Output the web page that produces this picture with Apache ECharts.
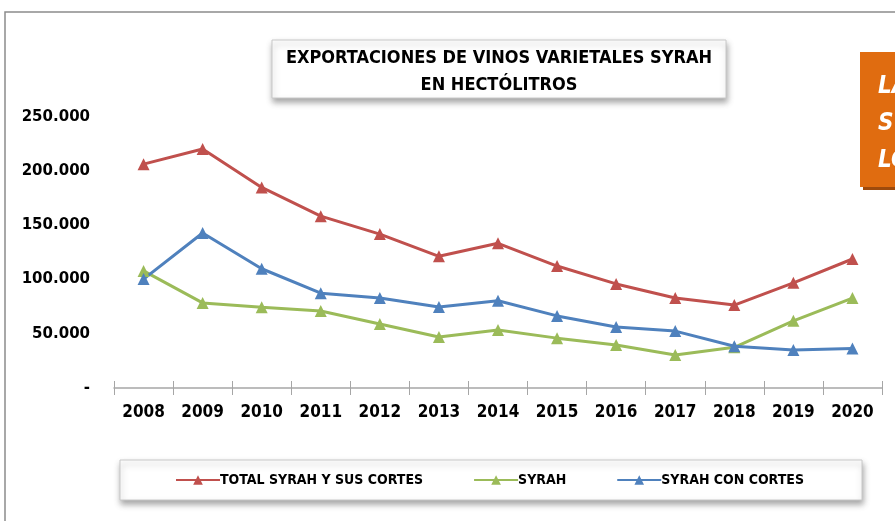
<!DOCTYPE html>
<html>
<head>
<meta charset="utf-8">
<script src="https://cdn.jsdelivr.net/npm/echarts@6/dist/echarts.min.js"></script>
<style>
  html, body { margin: 0; padding: 0; background: #fff; }
  #chart { width: 895px; height: 521px; }
</style>
</head>
<body>
<div id="chart"></div>
<script>
var years = ['2008', '2009', '2010', '2011', '2012', '2013', '2014', '2015', '2016', '2017', '2018', '2019', '2020'];
var totalSyrah = [206500, 220500, 185000, 158500, 142000, 121500, 133500, 112500, 96000, 83000, 76500, 97000, 119000];
var syrah = [108000, 78500, 74500, 71000, 59000, 47000, 53500, 46000, 39700, 30500, 37500, 62000, 83000];
var syrahCortes = [100500, 143000, 110000, 87500, 83000, 74700, 80500, 66500, 56300, 52500, 38500, 35000, 36500];
var seriesNames = ['TOTAL SYRAH Y SUS CORTES', 'SYRAH', 'SYRAH CON CORTES'];
var colors = ['#C0504D', '#9BBB59', '#4F81BD'];

var font = "'Liberation Sans Narrow', 'DejaVu Sans Condensed', sans-serif";
var chart = echarts.init(document.getElementById('chart'));

function fmt(v) {
    if (v === 0) return '-';
    return String(v).replace(/\B(?=(\d{3})+(?!\d))/g, '.');
}

function makeSeries(name, data, color) {
    return {
        name: name,
        type: 'line',
        data: data,
        symbol: 'triangle',
        symbolSize: 12,
        lineStyle: { width: 3, color: color },
        itemStyle: { color: color },
        z: 3
    };
}

var option = {
    animation: false,
    color: colors,
    grid: { left: 114, right: 13, top: 117, bottom: 133 },
    xAxis: [
        {
            type: 'category',
            data: years,
            boundaryGap: true,
            axisLine: { lineStyle: { color: '#a6a6a6', width: 1.5 } },
            axisTick: { show: true, length: 7, lineStyle: { color: '#a6a6a6' } },
            axisLabel: { color: '#000', fontWeight: 'bold', fontSize: 17, fontFamily: font, margin: 16 }
        },
        {
            // upper half of the crossing tick marks
            type: 'category',
            data: years,
            position: 'bottom',
            boundaryGap: true,
            axisLine: { show: false },
            axisTick: { show: true, inside: true, length: 7, lineStyle: { color: '#a6a6a6' } },
            axisLabel: { show: false }
        }
    ],
    yAxis: {
        type: 'value',
        min: 0,
        max: 250000,
        interval: 50000,
        axisLine: { show: false },
        axisTick: { show: false },
        splitLine: { show: false },
        axisLabel: {
            color: '#000', fontWeight: 'bold', fontSize: 15, fontFamily: 'DejaVu Sans', margin: 24,
            formatter: fmt
        }
    },
    legend: {
        data: seriesNames,
        left: 170,
        top: 468,
        itemWidth: 44,
        itemHeight: 12,
        itemGap: 50,
        textStyle: { color: '#000', fontWeight: 'bold', fontSize: 14, fontFamily: font, padding: [0, 0, 0, -5] }
    },
    graphic: [
        {
            type: 'rect', z: -10,
            shape: { x: 5, y: 12, width: 1000, height: 600 },
            style: { fill: '#fff', stroke: '#8c8c8c', lineWidth: 1.5 }
        },
        {
            type: 'rect', z: 1,
            shape: { x: 272, y: 40, width: 454, height: 58 },
            style: {
                fill: '#fff', stroke: '#c8c8c8', lineWidth: 1,
                shadowBlur: 6, shadowOffsetY: 4, shadowOffsetX: 1, shadowColor: 'rgba(0,0,0,0.35)'
            }
        },
        {
            type: 'text', z: 2,
            style: {
                text: 'EXPORTACIONES DE VINOS VARIETALES SYRAH\nEN HECTÓLITROS',
                x: 499, y: 72, align: 'center', verticalAlign: 'middle',
                fill: '#000', font: 'bold 18px ' + font, lineHeight: 27
            }
        },
        {
            type: 'rect', z: 0,
            shape: { x: 120, y: 460, width: 742, height: 40 },
            style: {
                fill: '#fff', stroke: '#c8c8c8', lineWidth: 1,
                shadowBlur: 6, shadowOffsetY: 4, shadowOffsetX: 1, shadowColor: 'rgba(0,0,0,0.35)'
            }
        },
        {
            type: 'rect', z: 1,
            shape: { x: 863, y: 57, width: 40, height: 133 },
            style: { fill: '#9E4A0C' }
        },
        {
            type: 'rect', z: 2,
            shape: { x: 860, y: 52, width: 40, height: 135 },
            style: { fill: '#E06C10' }
        },
        {
            type: 'text', z: 3,
            style: {
                text: 'LA\nS\nLO', x: 878, y: 68,
                fill: '#fff', font: 'italic bold 24px ' + font, lineHeight: 37, verticalAlign: 'top'
            }
        }
    ],
    series: [
        makeSeries(seriesNames[0], totalSyrah, colors[0]),
        makeSeries(seriesNames[1], syrah, colors[1]),
        makeSeries(seriesNames[2], syrahCortes, colors[2])
    ]
};
chart.setOption(option);
</script>
</body>
</html>
